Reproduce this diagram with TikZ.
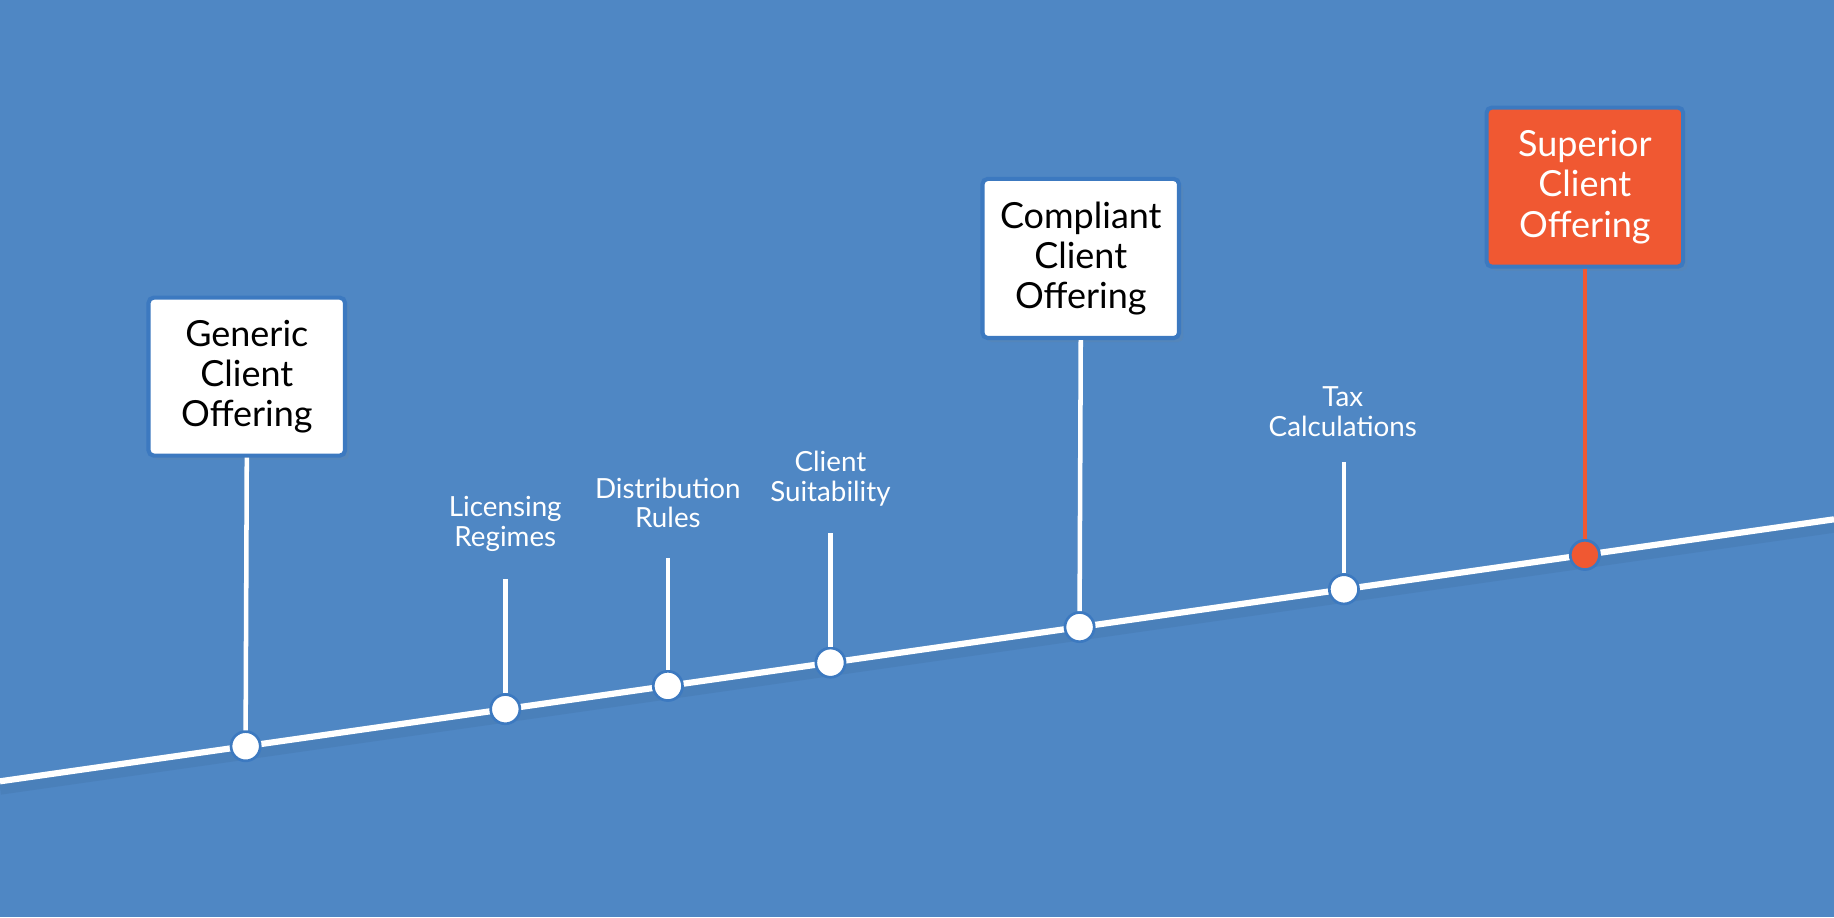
\documentclass[tikz,border=0pt]{standalone}
\usepackage{fontspec}
\setmainfont{Lato}
\usetikzlibrary{shadows}

\definecolor{bgblue}{RGB}{79,135,196}
\definecolor{edgeblue}{RGB}{60,121,192}
\definecolor{hotorange}{RGB}{240,88,50}

\begin{document}
\begin{tikzpicture}[
    % Milestone box style
    milebox/.style={
        rectangle,
        rounded corners=2.5pt,
        draw=edgeblue,
        line width=2pt,
        fill=white,
        text=black,
        minimum width=3.36cm,
        minimum height=2.7cm,
        align=center,
        font=\fontsize{17.5}{19.6}\selectfont,
        drop shadow={shadow xshift=2pt, shadow yshift=-2pt, opacity=0.12}
    },
    % Highlighted milestone
    hotbox/.style={
        milebox,
        fill=hotorange,
        text=white
    },
    % Small step label
    steplabel/.style={
        align=center,
        text=white,
        font=\fontsize{13.5}{14.4}\selectfont
    },
    % Dot on the time line
    dot/.style={
        circle,
        draw=edgeblue,
        line width=1.3pt,
        fill=white,
        inner sep=0pt,
        minimum size=0.5cm
    },
    hotdot/.style={
        dot,
        fill=hotorange
    },
    % Stem style
    stem/.style={
        white,
        line width=2.2pt
    }
]

% === Background ===
\fill[bgblue] (0,0) rectangle (31.36,15.68);
\useasboundingbox (0,0) rectangle (31.36,15.68);

% === Time line ===
\coordinate (lstart) at (0,2.32);
\coordinate (lend) at (31.36,6.8);
\draw[black, opacity=0.05, line width=7pt] ([yshift=-3pt]lstart) -- ([yshift=-3pt]lend);
\draw[white, line width=3pt] (lstart) -- (lend);

% === Milestones ===
\node[milebox] (generic) at (4.22,9.24) {Generic\\Client\\Offering};
\node[milebox, minimum height=2.72cm] (compliant) at (18.48,11.26) {Compliant\\Client\\Offering};
\node[hotbox, minimum height=2.72cm] (superior) at (27.1,12.48) {Superior\\Client\\Offering};

% === Steps ===
\node[steplabel] (licensing) at (8.64,6.72) {Licensing\\Regimes};
\node[steplabel] (distribution) at (11.42,7.08) {Distribution\\Rules};
\node[steplabel] (suitability) at (14.2,7.5) {Client\\Suitability};
\node[steplabel] (tax) at (22.96,8.64) {Tax\\Calculations};

\coordinate (tlicensing) at (8.64,5.78);
\coordinate (tdistribution) at (11.42,6.14);
\coordinate (tsuitability) at (14.2,6.56);
\coordinate (ttax) at (22.98,7.78);

% === Dots on the line ===
\node[dot] (dgeneric) at (4.2,2.92) {};
\node[dot] (dlicensing) at (8.64,3.554) {};
\node[dot] (ddistribution) at (11.42,3.951) {};
\node[dot] (dsuitability) at (14.2,4.349) {};
\node[dot] (dcompliant) at (18.46,4.957) {};
\node[dot] (dtax) at (22.98,5.603) {};
\node[hotdot] (dsuperior) at (27.1,6.191) {};

% === Stems ===
\draw[stem] (generic.south) -- (dgeneric.north);
\draw[stem] (tlicensing) -- (dlicensing.north);
\draw[stem] (tdistribution) -- (ddistribution.north);
\draw[stem] (tsuitability) -- (dsuitability.north);
\draw[stem] (compliant.south) -- (dcompliant.north);
\draw[stem] (ttax) -- (dtax.north);
\draw[stem, hotorange] (superior.south) -- (dsuperior.north);

\end{tikzpicture}
\end{document}
